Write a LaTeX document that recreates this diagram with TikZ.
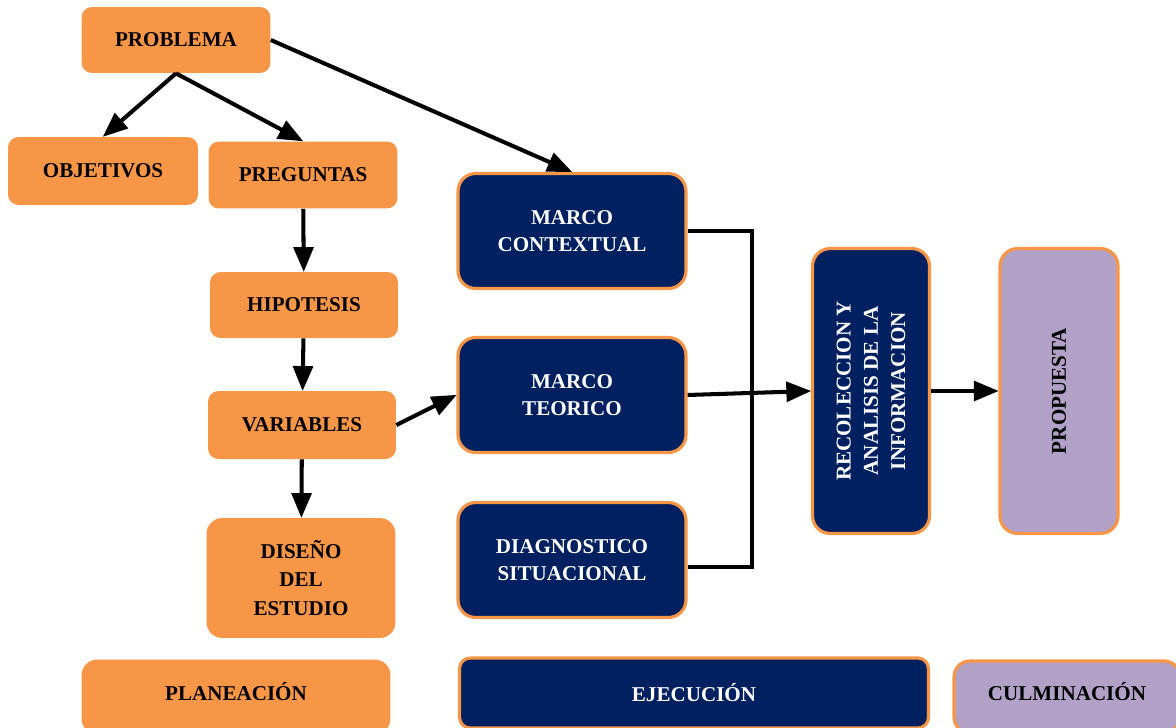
\documentclass[tikz,border=0pt]{standalone}
\usepackage{fontspec}
\setmainfont{Liberation Serif}
\usetikzlibrary{arrows,positioning}
\definecolor{naranja}{HTML}{F79646}
\definecolor{marino}{HTML}{002060}
\definecolor{lila}{HTML}{B2A1C7}

\begin{document}
\begin{tikzpicture}[x=0.02cm,y=-0.02cm]

	\tikzstyle planning box=[fill=naranja, rounded corners=6pt, inner sep=0pt, align=center, font=\bfseries\fontsize{12}{16}\selectfont];
	\tikzstyle execution box=[fill=marino, draw=naranja, line width=1.8pt, rounded corners=10pt, inner sep=0pt, align=center, text=white, font=\bfseries\fontsize{12}{15.5}\selectfont];
	\tikzstyle closing box=[execution box, fill=lila, text=black];
	\tikzstyle flow arrows=[-triangle 45, line width=2.3pt];
	\tikzstyle bracket lines=[line width=2.3pt];

	\useasboundingbox (0,0) rectangle (1176,727);

	% planeacion
	\node[planning box, minimum width=3.78cm, minimum height=1.32cm] (problema) at (176,40) {PROBLEMA};
	\node[planning box, minimum width=3.8cm, minimum height=1.36cm] (objetivos) at (103,171) {OBJETIVOS};
	\node[planning box, minimum width=3.78cm, minimum height=1.34cm] (preguntas) at (303,175) {PREGUNTAS};
	\node[planning box, minimum width=3.76cm, minimum height=1.32cm] (hipotesis) at (304,305) {HIPOTESIS};
	\node[planning box, minimum width=3.76cm, minimum height=1.36cm] (variables) at (302,425) {VARIABLES};
	\node[planning box, minimum width=3.78cm, minimum height=2.4cm, rounded corners=9pt] (diseno) at (301,578) {DISEÑO\\DEL\\ESTUDIO};

	% ejecucion
	\node[execution box, minimum width=4.56cm, minimum height=2.3cm] (contextual) at (572,231) {MARCO\\CONTEXTUAL};
	\node[execution box, minimum width=4.56cm, minimum height=2.3cm] (teorico) at (572,395) {MARCO\\TEORICO};
	\node[execution box, minimum width=4.56cm, minimum height=2.3cm] (diagnostico) at (572,560) {DIAGNOSTICO\\SITUACIONAL};
	\node[execution box, rotate=90, minimum width=5.7cm, minimum height=2.34cm] (recoleccion) at (871,391) {RECOLECCION Y\\ANALISIS DE LA\\INFORMACION};

	% culminacion
	\node[closing box, rotate=90, minimum width=5.7cm, minimum height=2.36cm] (propuesta) at (1059,391) {PROPUESTA};

	% etapas
	\node[planning box, minimum width=6.18cm, minimum height=1.5cm, text depth=6pt, rounded corners=9pt] (planeacion) at (236,697) {PLANEACIÓN};
	\node[execution box, minimum width=9.38cm, minimum height=1.4cm, rounded corners=6pt] (ejecucion) at (694,693) {EJECUCIÓN};
	\node[closing box, minimum width=4.52cm, minimum height=1.44cm, text depth=6pt, rounded corners=9pt] (culminacion) at (1067,697) {CULMINACIÓN};

	\draw[flow arrows] (problema.south) -- (objetivos.north);
	\draw[flow arrows] (problema.south) -- (preguntas.north);
	\draw[flow arrows] (problema.east) -- (contextual.north);
	\draw[flow arrows] (preguntas) -- (hipotesis);
	\draw[flow arrows] (hipotesis) -- (variables);
	\draw[flow arrows] (variables) -- (diseno);
	\draw[flow arrows] (variables.east) -- (teorico.west);

	\draw[bracket lines] (contextual.east) -- ++(64,0) |- ([yshift=-4pt]diagnostico.east);
	\draw[flow arrows] (teorico.east) -- (recoleccion.north);
	\draw[flow arrows] (recoleccion.south) -- (propuesta.north);

\end{tikzpicture}
\end{document}
